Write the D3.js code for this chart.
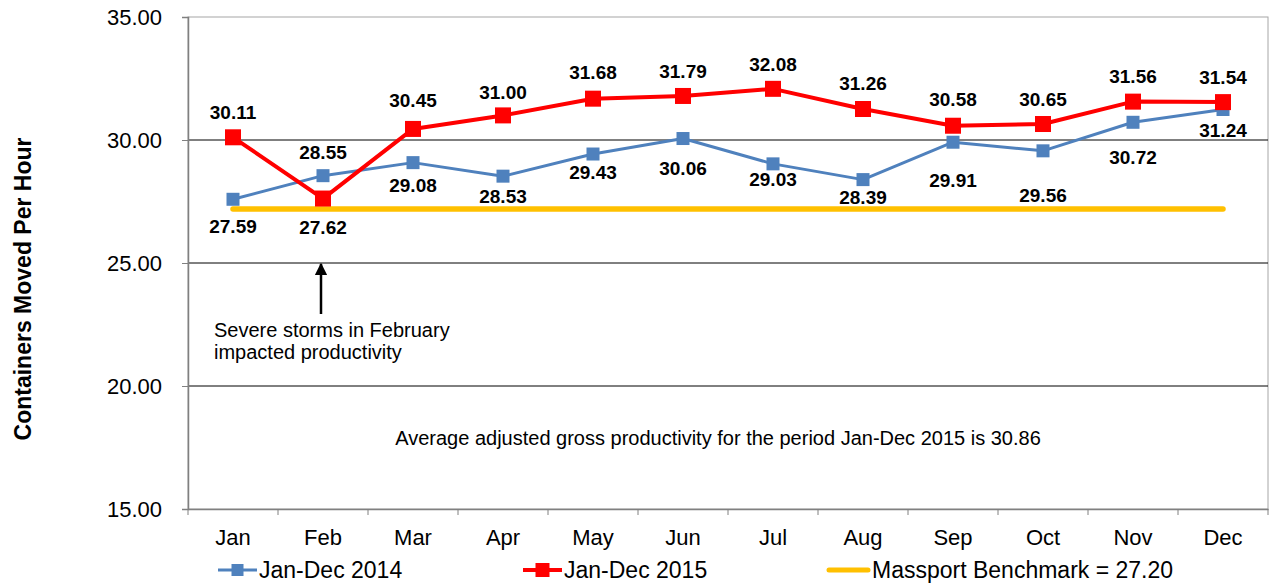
<!DOCTYPE html>
<html>
<head>
<meta charset="utf-8">
<script src="https://cdn.jsdelivr.net/npm/d3@7"></script>
<style>
  body { margin: 0; background: #fff; }
  text { font-family: "Liberation Sans", Arial, sans-serif; }
</style>
</head>
<body>
<div id="chart"></div>
<script>

var months = ['Jan','Feb','Mar','Apr','May','Jun','Jul','Aug','Sep','Oct','Nov','Dec'];
var values2014 = [27.59, 28.55, 29.08, 28.53, 29.43, 30.06, 29.03, 28.39, 29.91, 29.56, 30.72, 31.24];
var values2015 = [30.11, 27.62, 30.45, 31.00, 31.68, 31.79, 32.08, 31.26, 30.58, 30.65, 31.56, 31.54];
var benchmark = 27.20;
var yTicks = [15, 20, 25, 30, 35];

// label offsets (px from the point), hand placed like the original
var dy2014 = [27, -23, 23, 20, 18, 30, 15, 18, 38, 45, 35, 21];
var dy2015 = [-25, 29, -29, -23, -26, -25, -24, -26, -26, -25, -25, -25];

var svg = d3.select('#chart')
  .append('svg')
  .attr('width', 1270)
  .attr('height', 584);

var x = d3.scaleBand().domain(months).range([188, 1268]);
var y = d3.scaleLinear().domain([15, 35]).range([509, 17]);
var cx = function(d, i){ return x(months[i]) + x.bandwidth() / 2; };

// plot frame
svg.append('rect')
  .attr('x', 188).attr('y', 17)
  .attr('width', 1080).attr('height', 492)
  .attr('fill', 'none')
  .attr('stroke', '#a6a6a6')
  .attr('stroke-width', 1);

// gridlines
svg.selectAll('line.grid')
  .data([20, 25, 30])
  .enter()
  .append('line')
  .attr('x1', 188).attr('x2', 1268)
  .attr('y1', function(d){ return y(d); })
  .attr('y2', function(d){ return y(d); })
  .attr('stroke', '#000')
  .attr('stroke-width', 1);

// y axis
var yAxis = svg.append('g')
  .attr('transform', 'translate(188,0)')
  .call(d3.axisLeft(y).tickValues(yTicks).tickSize(6).tickPadding(20)
    .tickFormat(d3.format('.2f')));
yAxis.select('.domain').attr('stroke', '#808080').attr('stroke-width', 1.5);
yAxis.selectAll('.tick line').attr('stroke', '#808080');
yAxis.selectAll('text').attr('font-size', 22).attr('fill', '#000')
  .style('font-family', '"Liberation Sans", Arial, sans-serif');

// x axis
var xAxis = svg.append('g')
  .attr('transform', 'translate(0,509)')
  .call(d3.axisBottom(x).tickSize(0).tickPadding(20));
xAxis.select('.domain').attr('stroke', '#808080').attr('stroke-width', 1.5);
xAxis.selectAll('text').attr('font-size', 22).attr('fill', '#000')
  .style('font-family', '"Liberation Sans", Arial, sans-serif');
svg.selectAll('line.xtick')
  .data(d3.range(months.length + 1))
  .enter()
  .append('line')
  .attr('x1', function(d){ return 188 + d * x.bandwidth(); })
  .attr('x2', function(d){ return 188 + d * x.bandwidth(); })
  .attr('y1', 509).attr('y2', 515)
  .attr('stroke', '#808080');

// axis title
svg.append('text')
  .attr('transform', 'translate(31,289) rotate(-90)')
  .attr('text-anchor', 'middle')
  .attr('font-size', 23)
  .attr('font-weight', 'bold')
  .text('Containers Moved Per Hour');

// benchmark
svg.append('line')
  .attr('x1', x('Jan') + x.bandwidth() / 2)
  .attr('x2', x('Dec') + x.bandwidth() / 2)
  .attr('y1', y(benchmark)).attr('y2', y(benchmark))
  .attr('stroke', '#FFC000')
  .attr('stroke-width', 5.5)
  .attr('stroke-linecap', 'round');

var line = d3.line()
  .x(cx)
  .y(function(d){ return y(d); });

function series(data, color, width, size, dys){
  svg.append('path')
    .datum(data)
    .attr('d', line)
    .attr('fill', 'none')
    .attr('stroke', color)
    .attr('stroke-width', width)
    .attr('stroke-linejoin', 'round');

  svg.selectAll(null)
    .data(data)
    .enter()
    .append('rect')
    .attr('x', function(d, i){ return cx(d, i) - size / 2; })
    .attr('y', function(d){ return y(d) - size / 2; })
    .attr('width', size).attr('height', size)
    .attr('fill', color);

  svg.selectAll(null)
    .data(data)
    .enter()
    .append('text')
    .attr('x', cx)
    .attr('y', function(d, i){ return y(d) + dys[i]; })
    .attr('dy', '0.35em')
    .attr('text-anchor', 'middle')
    .attr('font-size', 19)
    .attr('font-weight', 'bold')
    .text(function(d){ return d.toFixed(2); });
}

series(values2014, '#4F81BD', 3, 13, dy2014);
series(values2015, '#FF0000', 4, 16, dy2015);

// annotation
svg.append('defs').append('marker')
  .attr('id', 'arrow')
  .attr('viewBox', '0 0 10 10')
  .attr('refX', 9).attr('refY', 5)
  .attr('markerWidth', 5).attr('markerHeight', 5)
  .attr('orient', 'auto')
  .append('path')
  .attr('d', 'M0,0 L10,5 L0,10 z')
  .attr('fill', '#000');

svg.append('line')
  .attr('x1', 321).attr('y1', 314)
  .attr('x2', 321).attr('y2', 264)
  .attr('stroke', '#000')
  .attr('stroke-width', 2.5)
  .attr('marker-end', 'url(#arrow)');

svg.append('text')
  .attr('x', 214).attr('y', 337)
  .attr('font-size', 20)
  .text('Severe storms in February');
svg.append('text')
  .attr('x', 214).attr('y', 359)
  .attr('font-size', 20)
  .text('impacted productivity');

svg.append('text')
  .attr('x', 718).attr('y', 445)
  .attr('text-anchor', 'middle')
  .attr('font-size', 20)
  .text('Average adjusted gross productivity for the period Jan-Dec 2015 is 30.86');

// legend
var legend = [
  {label: 'Jan-Dec 2014', color: '#4F81BD', x: 218, w: 3, m: 12},
  {label: 'Jan-Dec 2015', color: '#FF0000', x: 523, w: 4, m: 14},
  {label: 'Massport Benchmark = 27.20', color: '#FFC000', x: 829, w: 5, m: 0}
];
var lg = svg.selectAll('g.legend')
  .data(legend)
  .enter()
  .append('g')
  .attr('transform', function(d){ return 'translate(' + d.x + ',570)'; });
lg.append('line')
  .attr('x1', 0).attr('x2', 39)
  .attr('stroke', function(d){ return d.color; })
  .attr('stroke-width', function(d){ return d.w; })
  .attr('stroke-linecap', function(d){ return d.m ? 'butt' : 'round'; });
lg.append('rect')
  .attr('x', function(d){ return 19.5 - d.m / 2; })
  .attr('y', function(d){ return -d.m / 2; })
  .attr('width', function(d){ return d.m; })
  .attr('height', function(d){ return d.m; })
  .attr('fill', function(d){ return d.color; });
lg.append('text')
  .attr('x', function(d){ return d.m ? 41 : 43; })
  .attr('dy', '0.35em')
  .attr('font-size', 23)
  .text(function(d){ return d.label; });

</script>
</body>
</html>
